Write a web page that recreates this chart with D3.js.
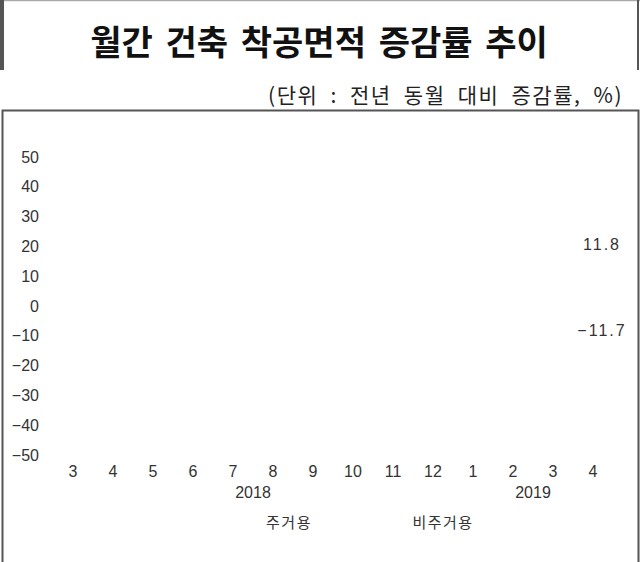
<!DOCTYPE html>
<html>
<head>
<meta charset="utf-8">
<script src="https://cdn.jsdelivr.net/npm/d3@7"></script>
<style>
  body { margin: 0; background: #fff; }
  svg { display: block; }
</style>
</head>
<body>
<div id="chart"></div>
<script>
// data
const months = ["3", "4", "5", "6", "7", "8", "9", "10", "11", "12", "1", "2", "3", "4"];
const years = [{ label: "2018", from: 4, to: 5 }, { label: "2019", from: 11, to: 12 }];
const yTicks = [50, 40, 30, 20, 10, 0, -10, -20, -30, -40, -50];
const seriesNames = ["주거용", "비주거용"];
const lastValues = [11.8, -11.7];

const width = 640, height = 562;

const svg = d3
  .select("#chart")
  .append("svg")
  .attr("width", width)
  .attr("height", height);

// title box
svg.append("line").attr("x1", 0).attr("x2", width).attr("y1", 0.5).attr("y2", 0.5)
  .style("stroke", "#aaa").style("stroke-width", 1.5);
svg.append("rect").attr("x", 0).attr("y", 0).attr("width", 4).attr("height", 70).style("fill", "#555");
svg.append("rect").attr("x", 637).attr("y", 0).attr("width", 2).attr("height", 70).style("fill", "#555");

svg.append("text")
  .attr("x", 319)
  .attr("y", 55)
  .attr("text-anchor", "middle")
  .style("font-family", "'Noto Sans CJK KR', sans-serif")
  .style("font-weight", "bold")
  .style("font-size", "34px")
  .style("word-spacing", "5px")
  .style("fill", "#111")
  .text("월간 건축 착공면적 증감률 추이");

svg.append("text")
  .attr("x", 623)
  .attr("y", 103)
  .attr("text-anchor", "end")
  .style("font-family", "'Noto Sans CJK KR', sans-serif")
  .style("font-size", "21px")
  .style("letter-spacing", "1.5px")
  .style("word-spacing", "6px")
  .style("fill", "#222")
  .text("(단위 : 전년 동월 대비 증감률, %)");

// chart frame
svg.append("path")
  .attr("d", `M2.5,${height} V110.5 H638.5 V${height}`)
  .style("fill", "none")
  .style("stroke", "#555")
  .style("stroke-width", 2);

// scales
const x = d3.scalePoint().domain(d3.range(months.length)).range([73, 593]);
const y = d3.scaleLinear().domain([-50, 50]).range([455, 157]);

const numFont = "'Liberation Sans', Arial, sans-serif";
const fmt = (d) => (d < 0 ? "\u2212" + Math.abs(d) : d);

// y axis labels
svg.append("g")
  .selectAll("text")
  .data(yTicks)
  .join("text")
  .attr("x", 39)
  .attr("y", (d) => y(d))
  .attr("dy", "0.35em")
  .attr("text-anchor", "end")
  .style("font-family", numFont)
  .style("font-size", "16px")
  .style("fill", "#333")
  .text(fmt);

// x axis labels
svg.append("g")
  .selectAll("text")
  .data(months)
  .join("text")
  .attr("x", (d, i) => x(i))
  .attr("y", 471)
  .attr("dy", "0.35em")
  .attr("text-anchor", "middle")
  .style("font-family", numFont)
  .style("font-size", "16px")
  .style("fill", "#333")
  .text((d) => d);

svg.append("g")
  .selectAll("text")
  .data(years)
  .join("text")
  .attr("x", (d) => (x(d.from) + x(d.to)) / 2)
  .attr("y", 492)
  .attr("dy", "0.35em")
  .attr("text-anchor", "middle")
  .style("font-family", numFont)
  .style("font-size", "16px")
  .style("fill", "#333")
  .text((d) => d.label);

// legend (labels only)
const legendX = [289, 443];
svg.append("g")
  .selectAll("text")
  .data(seriesNames)
  .join("text")
  .attr("x", (d, i) => legendX[i])
  .attr("y", 523)
  .attr("dy", "0.35em")
  .attr("text-anchor", "middle")
  .style("font-family", "'Noto Sans CJK KR', sans-serif")
  .style("font-size", "15px")
  .style("letter-spacing", "1.5px")
  .style("fill", "#333")
  .text((d) => d);

// end value labels
const labelShift = [-26, -10];
svg.append("g")
  .selectAll("text")
  .data(lastValues)
  .join("text")
  .attr("x", x(months.length - 1) + 9)
  .attr("y", (d, i) => y(d) + labelShift[i])
  .attr("dy", "0.35em")
  .attr("text-anchor", "middle")
  .style("font-family", numFont)
  .style("font-size", "16px")
  .style("letter-spacing", "2px")
  .style("fill", "#333")
  .text(fmt);
</script>
</body>
</html>
